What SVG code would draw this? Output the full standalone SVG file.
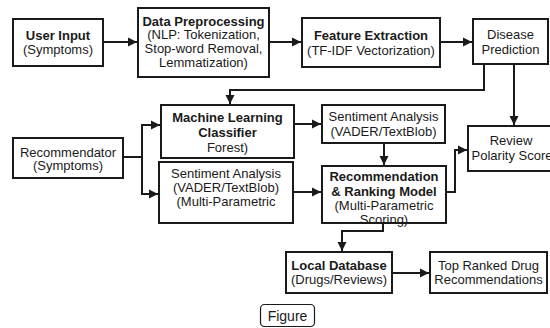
<svg xmlns="http://www.w3.org/2000/svg" width="550" height="328" viewBox="0 0 550 328">
<defs>
<marker id="ah" markerUnits="userSpaceOnUse" markerWidth="10" markerHeight="10" refX="9" refY="5" orient="auto">
<path d="M0,0.5 L9,5 L0,9.5 Z" fill="#1a1a1a"/>
</marker>
<style>
.box{fill:#fff;stroke:#1a1a1a;stroke-width:2}
.t{font-family:"Liberation Sans",Arial,sans-serif;font-size:13px;fill:#1a1a1a;text-anchor:middle}
.b{font-weight:bold}
.c{fill:none;stroke:#1a1a1a;stroke-width:2}
.a{marker-end:url(#ah)}
</style>
</defs>
<rect width="550" height="328" fill="#fff"/>
<g id="connectors">
<path class="c a" d="M103,42 H137"/>
<path class="c a" d="M269,42 H301"/>
<path class="c a" d="M440,42 H472"/>
<path class="c a" d="M484,64 V90 H230 V104"/>
<path class="c a" d="M514,64 V125"/>
<path class="c" d="M123,157 H142"/>
<path class="c a" d="M142,157 V125 H160"/>
<path class="c a" d="M142,157 V194 H158"/>
<path class="c a" d="M294,124 H321"/>
<path class="c a" d="M384,143 V165"/>
<path class="c a" d="M293,192 H321"/>
<path class="c a" d="M446,192 H455 V150 H467"/>
<path class="c a" d="M383,223 V231 H342 V251"/>
<path class="c a" d="M392,273 H429"/>
</g>
<g id="user-input">
<rect class="box" x="13" y="19" width="90" height="47"/>
<text class="t b" x="58" y="39.5">User Input</text>
<text class="t" x="58" y="54">(Symptoms)</text>
</g>
<g id="data-preprocessing">
<rect class="box" x="138" y="8" width="131" height="69"/>
<text class="t b" x="203.5" y="25.5">Data Preprocessing</text>
<text class="t" x="203.5" y="39">(NLP: Tokenization,</text>
<text class="t" x="203.5" y="53">Stop-word Removal,</text>
<text class="t" x="203.5" y="67">Lemmatization)</text>
</g>
<g id="feature-extraction">
<rect class="box" x="302" y="18" width="138" height="49"/>
<text class="t b" x="371" y="39.5">Feature Extraction</text>
<text class="t" x="371" y="54.5">(TF-IDF Vectorization)</text>
</g>
<g id="disease-prediction">
<rect class="box" x="473" y="19" width="75" height="45"/>
<text class="t" x="510.5" y="38.5">Disease</text>
<text class="t" x="510.5" y="53.5">Prediction</text>
</g>
<g id="ml-classifier">
<rect class="box" x="161" y="105" width="133" height="53"/>
<text class="t b" x="227.5" y="121.5">Machine Learning</text>
<text class="t b" x="227.5" y="136.5">Classifier</text>
<text class="t" x="227.5" y="151.5">Forest)</text>
</g>
<g id="recommendator">
<rect class="box" x="13" y="138" width="110" height="40"/>
<text class="t" x="68" y="156.5">Recommendator</text>
<text class="t" x="68" y="170">(Symptoms)</text>
</g>
<g id="sentiment-left">
<rect class="box" x="159" y="162" width="134" height="61"/>
<text class="t" x="226" y="177.5">Sentiment Analysis</text>
<text class="t" x="226" y="191.5">(VADER/TextBlob)</text>
<text class="t" x="226" y="206">(Multi-Parametric</text>
</g>
<g id="sentiment-top">
<rect class="box" x="322" y="105" width="123" height="38"/>
<text class="t" x="383.5" y="120.5">Sentiment Analysis</text>
<text class="t" x="383.5" y="135.5">(VADER/TextBlob)</text>
</g>
<g id="ranking-model">
<rect class="box" x="322" y="166" width="124" height="57"/>
<text class="t b" x="384" y="180.5">Recommendation</text>
<text class="t b" x="384" y="195.5">&amp; Ranking Model</text>
<text class="t" x="384" y="209.5">(Multi-Parametric</text>
<text class="t" x="384" y="223.5">Scoring)</text>
</g>
<g id="review-polarity">
<rect class="box" x="468" y="126" width="90" height="45"/>
<text class="t" x="511" y="144.5">Review</text>
<text class="t" x="512" y="159.5">Polarity Score</text>
</g>
<g id="local-database">
<rect class="box" x="286" y="252" width="106" height="41"/>
<text class="t b" x="339" y="269.5">Local Database</text>
<text class="t" x="339" y="284">(Drugs/Reviews)</text>
</g>
<g id="top-ranked">
<rect class="box" x="430" y="252" width="117" height="41"/>
<text class="t" x="488.5" y="269.5">Top Ranked Drug</text>
<text class="t" x="488.5" y="284">Recommendations</text>
</g>
<g id="figure-label">
<rect x="260.5" y="304.5" width="54" height="22" rx="4" fill="#fff" stroke="#1a1a1a" stroke-width="1.2"/>
<text class="t" x="287.5" y="321" style="font-size:14px">Figure</text>
</g>
</svg>
